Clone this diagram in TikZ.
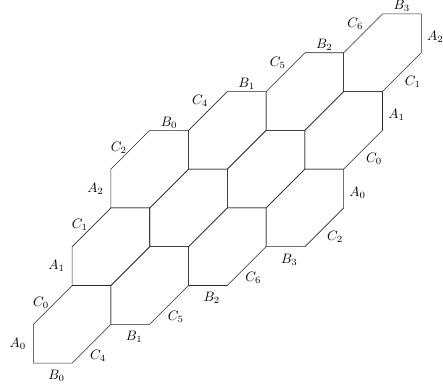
\documentclass[tikz,border=0pt]{standalone}
\usetikzlibrary{calc}

\begin{document}
\begin{tikzpicture}[
  hexedge/.style={line width=0.4pt, black!85},
  lbl/.style={inner sep=0pt, outer sep=0pt, font=\normalsize}
]

\useasboundingbox (-0.86,-0.56) rectangle (10.56,9.36);

% twelve hexagons, lattice (2,1) and (1,2)
\foreach \a in {0,...,3}{
  \foreach \b in {0,1,2}{
    \draw[hexedge, shift={(2*\a+\b,\a+2*\b)}]
      (0,0) -- (1,0) -- (2,1) -- (2,2) -- (1,2) -- (0,1) -- cycle;
  }
}

% bottom side
\foreach \n/\p/\t in {botB0/{0.5,0}/B_0, botB1/{2.5,1}/B_1,
                      botB2/{4.5,2}/B_2, botB3/{6.5,3}/B_3}
  \node[lbl] (\n) at ($(\p)+(0.1,-0.33)$) {$\t$};
\foreach \n/\p/\t in {botC4/{1.5,0.5}/C_4, botC5/{3.5,1.5}/C_5,
                      botC6/{5.5,2.5}/C_6}
  \node[lbl] (\n) at ($(\p)+(0.17,-0.31)$) {$\t$};

% right side
\foreach \n/\p/\t in {rgtC2/{7.5,3.5}/C_2, rgtC0/{8.5,5.5}/C_0,
                      rgtC1/{9.5,7.5}/C_1}
  \node[lbl] (\n) at ($(\p)+(0.28,-0.24)$) {$\t$};
\foreach \n/\p/\t in {rgtA0/{8,4.5}/A_0, rgtA1/{9,6.5}/A_1,
                      rgtA2/{10,8.5}/A_2}
  \node[lbl] (\n) at ($(\p)+(0.36,-0.1)$) {$\t$};

% top side
\foreach \n/\p/\t in {topB0/{3.5,6}/B_0, topB1/{5.5,7}/B_1,
                      topB2/{7.5,8}/B_2, topB3/{9.5,9}/B_3}
  \node[lbl] (\n) at ($(\p)+(0,0.2)$) {$\t$};
\foreach \n/\p/\t in {topC4/{4.5,6.5}/C_4, topC5/{6.5,7.5}/C_5,
                      topC6/{8.5,8.5}/C_6}
  \node[lbl] (\n) at ($(\p)+(-0.2,0.25)$) {$\t$};

% left side
\foreach \n/\p/\t in {lftC0/{0.5,1.5}/C_0, lftC1/{1.5,3.5}/C_1,
                      lftC2/{2.5,5.5}/C_2}
  \node[lbl] (\n) at ($(\p)+(-0.3,0.06)$) {$\t$};
\foreach \n/\p/\t in {lftA0/{0,0.5}/A_0, lftA1/{1,2.5}/A_1,
                      lftA2/{2,4.5}/A_2}
  \node[lbl] (\n) at ($(\p)+(-0.4,0)$) {$\t$};

\end{tikzpicture}
\end{document}
